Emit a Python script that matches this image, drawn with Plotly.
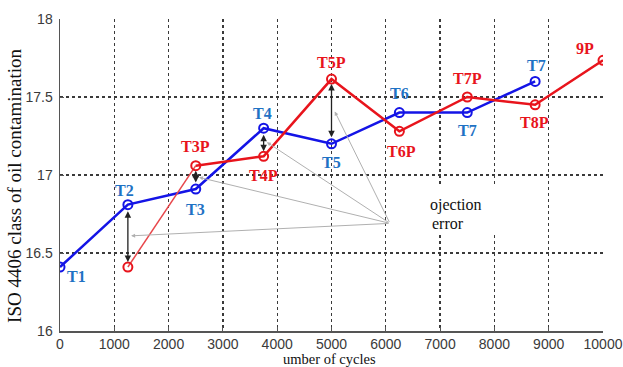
import plotly.graph_objects as go

# ---------------- data ----------------
actual_x = [0, 1250, 2500, 3750, 5000, 6250, 7500, 8750]
actual = [16.41, 16.81, 16.91, 17.30, 17.20, 17.40, 17.40, 17.60]
actual_labels = ["T1", "T2", "T3", "T4", "T5", "T6", "T7", "T7"]

pred_x = [1250, 2500, 3750, 5000, 6250, 7500, 8750, 10000]
predicted = [16.41, 17.06, 17.12, 17.615, 17.28, 17.50, 17.45, 17.735]
pred_labels = ["", "T3P", "T4P", "T5P", "T6P", "T7P", "T8P", "9P"]

error_cycles = [1250, 2500, 3750, 5000]

x_ticks = [0, 1000, 2000, 3000, 4000, 5000, 6000, 7000, 8000, 9000, 10000]
y_ticks = [16, 16.5, 17, 17.5, 18]

# label offsets in pixels (dx right, dy down)
actual_offsets = [(16, 9), (-3, -14), (0, 20), (-1, -15), (0, 19), (0, -19), (0, 18), (1, -16)]
pred_offsets = [(0, 0), (0, -19), (0, 19), (0, -17), (2, 20), (0, -19), (-1, 18), (-18, -12)]

# callout anchor for "Projection error"
callout_anchor = (6077, 16.69)

BLUE = "#1414e6"
BLUE_TXT = "#1f72c4"
RED = "#e8141c"
SERIF = "Liberation Serif, Times New Roman, serif"
SANS = "Liberation Sans, Arial, sans-serif"

fig = go.Figure()

fig.add_trace(go.Scatter(
    x=actual_x, y=actual, mode="lines+markers",
    line=dict(color=BLUE, width=2.5),
    marker=dict(symbol="circle-open", size=9, color=BLUE, line=dict(width=2, color=BLUE)),
    showlegend=False, hoverinfo="skip"))

fig.add_trace(go.Scatter(
    x=pred_x[:2], y=predicted[:2], mode="lines",
    line=dict(color="#e8474b", width=1.5),
    showlegend=False, hoverinfo="skip"))
fig.add_trace(go.Scatter(
    x=pred_x[1:], y=predicted[1:], mode="lines",
    line=dict(color=RED, width=2.5),
    showlegend=False, hoverinfo="skip"))
fig.add_trace(go.Scatter(
    x=pred_x, y=predicted, mode="markers",
    marker=dict(symbol="circle-open", size=9, color=RED, line=dict(width=2, color=RED)),
    showlegend=False, hoverinfo="skip"))

annotations = []

# point labels
for x, y, t, (dx, dy) in zip(actual_x, actual, actual_labels, actual_offsets):
    annotations.append(dict(x=x, y=y, text=t, showarrow=False, xshift=dx, yshift=-dy,
                            font=dict(family=SERIF, size=16, color=BLUE_TXT, weight="bold")))
for x, y, t, (dx, dy) in zip(pred_x, predicted, pred_labels, pred_offsets):
    if t:
        annotations.append(dict(x=x, y=y, text=t, showarrow=False, xshift=dx, yshift=-dy,
                                font=dict(family=SERIF, size=16, color=RED, weight="bold")))

# error arrows + gray callouts
for c in error_cycles:
    ya = actual[actual_x.index(c)]
    yp = predicted[pred_x.index(c)]
    annotations.append(dict(x=c, y=yp, ax=c, ay=ya, axref="x", ayref="y", xref="x", yref="y",
                            text="", showarrow=True, arrowhead=2, arrowside="end+start",
                            arrowsize=1, arrowwidth=1.3, arrowcolor="#222222",
                            standoff=5, startstandoff=5))
    annotations.append(dict(x=c + 60, y=(ya + yp) / 2, ax=callout_anchor[0], ay=callout_anchor[1],
                            axref="x", ayref="y", xref="x", yref="y",
                            text="", showarrow=True, arrowhead=2, arrowsize=0.8,
                            arrowwidth=1, arrowcolor="#b0b0b0"))

# projection error text
annotations.append(dict(x=6777, y=16.808, text="ojection", showarrow=False, xanchor="left",
                        font=dict(family=SERIF, size=16, color="#111111")))
annotations.append(dict(x=6814, y=16.692, text="error", showarrow=False, xanchor="left",
                        font=dict(family=SERIF, size=16, color="#111111")))

# axis titles
annotations.append(dict(xref="paper", yref="paper", x=0.5, y=0, xshift=-2, yshift=-28,
                        yanchor="middle", text="umber of cycles", showarrow=False,
                        font=dict(family=SERIF, size=14.5, color="#111111")))
annotations.append(dict(xref="paper", yref="paper", x=0, y=0.465, xshift=-45,
                        xanchor="center", yanchor="middle", textangle=-90,
                        text="ISO 4406 class of oil contamination", showarrow=False,
                        font=dict(family=SERIF, size=19, color="#111111")))

shapes = [
    dict(type="rect", xref="x", yref="y", x0=6262, x1=8103, y0=16.615, y1=16.923,
         fillcolor="white", line=dict(width=0), layer="between"),
    dict(type="rect", xref="x", yref="y", x0=9300, x1=10060, y0=17.769, y1=17.853,
         fillcolor="white", line=dict(width=0), layer="between"),
]

fig.update_layout(
    template="none",
    width=623, height=367,
    margin=dict(l=60, r=20, t=19, b=36, autoexpand=False),
    paper_bgcolor="white", plot_bgcolor="white",
    annotations=annotations, shapes=shapes,
    showlegend=False,
)

axis_common = dict(
    automargin=False,
    showgrid=True, gridcolor="#3a3a3a", gridwidth=1.3, griddash="dot",
    showline=True, linecolor="#555555", linewidth=1.5, mirror=False,
    ticks="inside", ticklen=4, tickcolor="#555555", tickwidth=1,
    zeroline=False,
    ticklabeloverflow="allow",
    tickfont=dict(family=SANS, size=14, color="#3a3a3a"),
)

fig.update_xaxes(range=[0, 10000], tickvals=x_ticks, ticktext=[str(v) for v in x_ticks],
                 **axis_common)
fig.update_yaxes(range=[16, 18], tickvals=y_ticks, ticktext=["16", "16.5", "17", "17.5", "18"],
                 ticklabelstandoff=3, **axis_common)

fig.write_html(
    "out.html",
    config={"displayModeBar": False, "staticPlot": True},
    post_script="document.body.style.margin='0';document.body.style.overflow='hidden';",
)
